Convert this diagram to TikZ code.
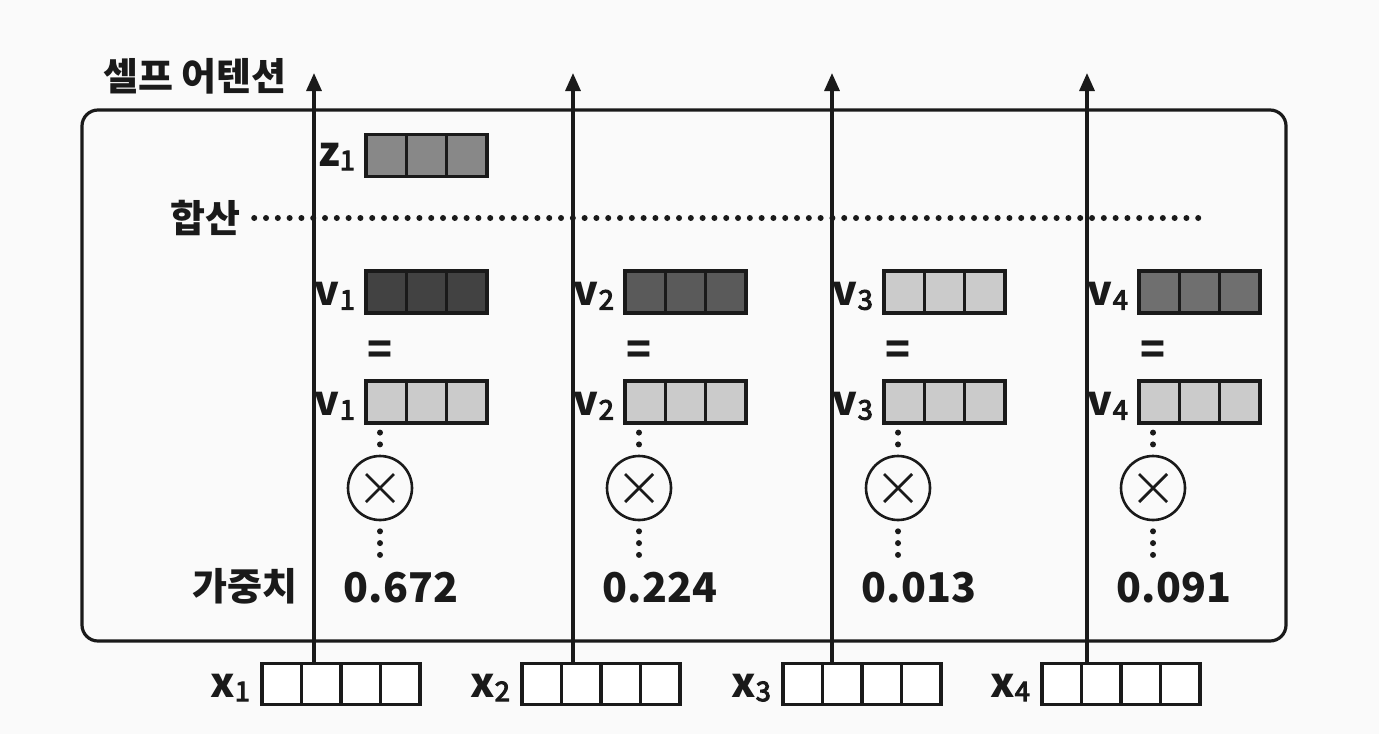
\documentclass[tikz,border=0pt]{standalone}
\usepackage{fontspec}
\setmainfont{Noto Sans CJK KR}
\newfontfamily\subfont[FakeBold=4]{Noto Sans CJK KR}
\usetikzlibrary{calc, arrows.meta}

\definecolor{inkc}{HTML}{1A1A1A}
\definecolor{zgray}{HTML}{888888}
\definecolor{vdark}{HTML}{424242}
\definecolor{vmid}{HTML}{5A5A5A}
\definecolor{vmidb}{HTML}{6F6F6F}
\definecolor{vlight}{HTML}{CBCBCB}
\newcommand{\sublab}[2]{#1\raisebox{-2pt}{\subfont\mdseries\fontsize{13.5}{15}\selectfont#2}}

\begin{document}
\begin{tikzpicture}[x=0.5pt, y=-0.5pt, line width=1.6pt, color=inkc,
  font=\bfseries\fontsize{20.5}{24}\selectfont,
  kor/.style={font=\bfseries\fontsize{19}{22}\selectfont},
  lab/.style={anchor=base east, inner sep=0pt},
  cells/.style={path picture={\foreach \k in {1,...,#1} {\draw ($(path picture bounding box.north west)!\k/#1!(path picture bounding box.north east)$) -- ($(path picture bounding box.south west)!\k/#1!(path picture bounding box.south east)$);}}},
  vec/.style={draw, fill=#1, inner sep=0pt, minimum width=60.5pt, minimum height=21pt, cells=3},
  xvec/.style={draw, fill=white, inner sep=0pt, minimum width=79pt, minimum height=20.5pt, cells=4},
  mult/.style={circle, draw, line width=1.3pt, minimum size=32pt, inner sep=0pt,
    path picture={\draw[line width=1.4pt] ([shift={(-14,-14)}]path picture bounding box.center) -- ([shift={(14,14)}]path picture bounding box.center) ([shift={(-14,14)}]path picture bounding box.center) -- ([shift={(14,-14)}]path picture bounding box.center);}},
  dotline/.style={line width=3pt, line cap=round, dash pattern=on 0pt off 5.9pt},
  arr/.style={-{Triangle[length=9pt, width=7.5pt]}}]
\fill[black!2] (0,0) rectangle (1379,734);
\useasboundingbox (0,0) rectangle (1379,734);
\draw[rounded corners=8pt] (82,110) rectangle (1286,641);
\node[kor] (title) at (195,76) {셀프 어텐션};
\node[kor] (sum) at (205,218) {합산};
\node[kor] (wt) at (245,586) {가중치};
\coordinate (dend) at (1210,218);
\draw[dotline, shorten <=3pt] (sum) -- (dend);
\node[vec=zgray] (z1) at (426.5,155.5) {};
\node[lab] (zl) at ([shift={(-4pt,6pt)}]z1.south west) {\sublab{z}{1}};
\foreach \i/\a/\xl/\w/\c in {1/314/262/0.672/vdark, 2/573/522/0.224/vmid, 3/832/783/0.013/vlight, 4/1087/1042/0.091/vmidb} {
    \node[vec=\c] (vt\i) at (\a+112.5,292) {};
    \node[vec=vlight] (vb\i) at (\a+112.5,402) {};
    \node[lab] (vtl\i) at ([shift={(-4pt,4.5pt)}]vt\i.south west) {\sublab{v}{\i}};
    \node[lab] (vbl\i) at ([shift={(-4pt,4.5pt)}]vb\i.south west) {\sublab{v}{\i}};
    \node (eq\i) at (\a+66,353) {=};
    \node[mult] (m\i) at (\a+66,488) {};
    \node[anchor=base, inner sep=0pt] (w\i) at (\a+87,602) {\w};
    \draw[dotline, shorten <=4pt, shorten >=4pt] (vb\i.south -| m\i) -- (m\i);
    \draw[dotline, shorten <=5pt, shorten >=7pt] (m\i) -- (w\i.north -| m\i);
    \node[xvec] (xb\i) at (\xl+79,684) {};
    \node[lab] (xbl\i) at ([shift={(-4.5pt,4.5pt)}]xb\i.south west) {\sublab{x}{\i}};
    \coordinate (top\i) at (\a,73);
    \draw[arr] (xb\i.north -| top\i) -- (top\i);
}
\end{tikzpicture}
\end{document}
